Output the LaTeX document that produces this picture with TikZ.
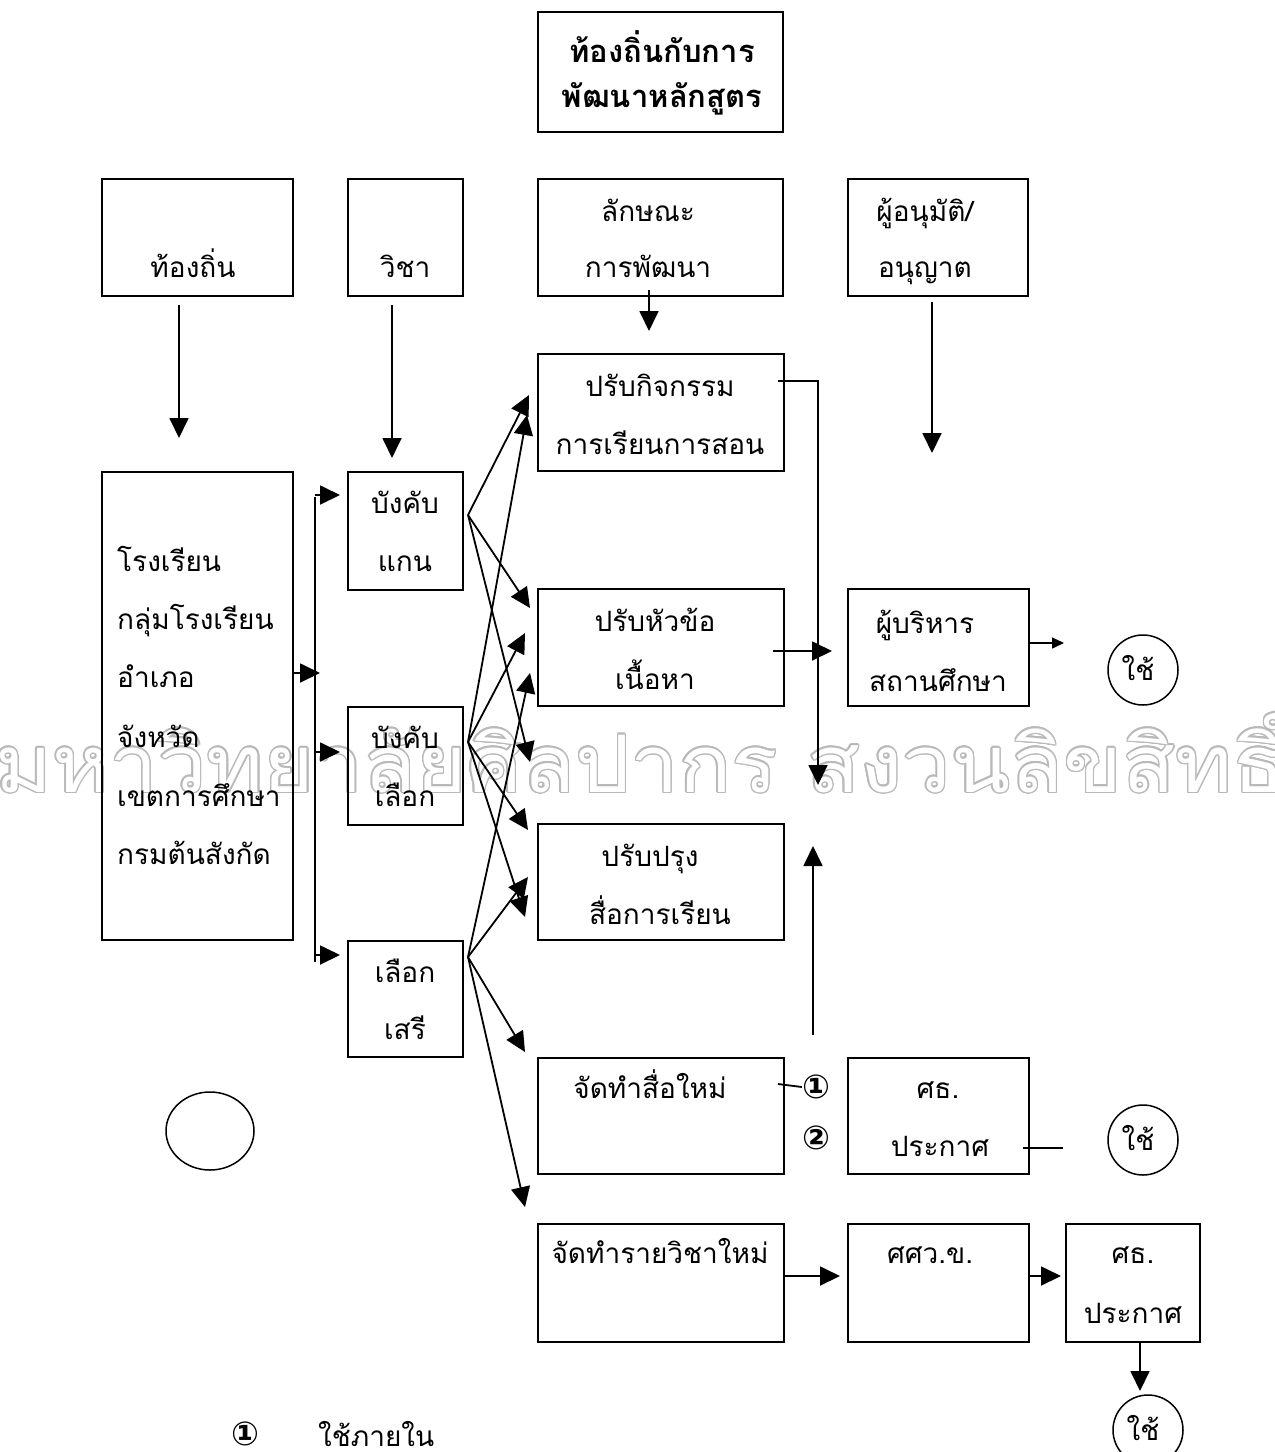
\documentclass[tikz,border=0pt]{standalone}
\usepackage{fontspec}
\usetikzlibrary{arrows.meta,shapes.geometric}
\newfontfamily\thaifnt[Script=Thai]{Loma}
\newfontfamily\symfnt{DejaVu Sans}
\newcommand\tsz{\fontsize{28}{34}\selectfont}
\newcommand\wmtext{\resizebox{1290pt}{84pt}{\thaifnt มหาวิทยาลัยศิลปากร สงวนลิขสิทธิ์}}
\tikzset{
  box/.style={draw, line width=2.2pt, inner sep=0pt},
  arr/.style={line width=1.8pt, -{Triangle[length=20pt,width=19pt]}},
  sarr/.style={line width=1.5pt, -{Triangle[length=12pt,width=11pt]}},
  ln/.style={line width=1.8pt},
  tx/.style={font=\thaifnt\tsz, anchor=base, inner sep=0pt},
  txl/.style={tx, anchor=base west},
  txb/.style={font=\thaifnt\bfseries\fontsize{31}{36}\selectfont, anchor=base, inner sep=0pt},
  num/.style={font=\symfnt\bfseries\fontsize{33}{36}\selectfont, inner sep=0pt},
  usec/.style={draw, circle, line width=1.5pt, minimum size=70pt, inner sep=0pt},
  wm/.style={anchor=base west, inner sep=0pt}
}
\begin{document}
\begin{tikzpicture}[x=1pt,y=-1pt]
\useasboundingbox (0,0) rectangle (1275,1452);
% watermark (outlined)
\foreach \a in {0,22.5,...,337.5}
  \node[wm, text=gray!55, shift={(\a:1.4pt)}] at (-5,792) {\wmtext};
\node[wm, text=white] (wmk) at (-5,792) {\wmtext};
% boxes
\node[box, minimum width=245pt, minimum height=120pt] (title) at (660.5,72) {};
\node[box, minimum width=191pt, minimum height=117pt] (lok) at (197.5,237.5) {};
\node[box, minimum width=115pt, minimum height=117pt] (wicha) at (405.5,237.5) {};
\node[box, minimum width=245pt, minimum height=117pt] (laks) at (660.5,237.5) {};
\node[box, minimum width=180pt, minimum height=117pt] (appr) at (938,237.5) {};
\node[box, minimum width=191pt, minimum height=468pt] (left) at (197.5,706) {};
\node[box, minimum width=115pt, minimum height=118pt] (core) at (405.5,531) {};
\node[box, minimum width=115pt, minimum height=118pt] (reqel) at (405.5,766) {};
\node[box, minimum width=115pt, minimum height=116pt] (free) at (405.5,999) {};
\node[box, minimum width=246pt, minimum height=117pt] (act) at (661,412.5) {};
\node[box, minimum width=246pt, minimum height=117pt] (topic) at (661,647.5) {};
\node[box, minimum width=246pt, minimum height=116pt] (media) at (661,882) {};
\node[box, minimum width=246pt, minimum height=116pt] (nmed) at (661,1116) {};
\node[box, minimum width=246pt, minimum height=118pt] (ncrs) at (661,1283) {};
\node[box, minimum width=181pt, minimum height=117pt] (admin) at (938.5,647.5) {};
\node[box, minimum width=181pt, minimum height=116pt] (moe1) at (938.5,1116) {};
\node[box, minimum width=181pt, minimum height=118pt] (sswk) at (938.5,1283) {};
\node[box, minimum width=134pt, minimum height=118pt] (moe2) at (1133,1283) {};
% circles
\node[usec] (use1) at (1143,670) {};
\node[usec] (use2) at (1143,1140) {};
\node[usec] (use3) at (1148,1430) {};
\node[draw, ellipse, line width=1.5pt, minimum width=88pt, minimum height=78pt, inner sep=0pt] (empty) at (210,1131) {};
% texts
\node[txb] at (662,62) {ท้องถิ่นกับการ};
\node[txb] at (662,107) {พัฒนาหลักสูตร};
\node[tx] at (193,277) {ท้องถิ่น};
\node[tx] at (405,277) {วิชา};
\node[tx] at (648,221) {ลักษณะ};
\node[tx] at (648,277) {การพัฒนา};
\node[tx] at (925,221) {ผู้อนุมัติ/};
\node[tx] at (925,277) {อนุญาต};
\node[txl] at (117,571) {โรงเรียน};
\node[txl] at (117,629) {กลุ่มโรงเรียน};
\node[txl] at (117,687) {อำเภอ};
\node[txl] at (117,747) {จังหวัด};
\node[txl] at (117,806) {เขตการศึกษา};
\node[txl] at (117,864) {กรมต้นสังกัด};
\node[tx] at (405,513) {บังคับ};
\node[tx] at (405,571) {แกน};
\node[tx] at (405,748) {บังคับ};
\node[tx] at (405,806) {เลือก};
\node[tx] at (405,982) {เลือก};
\node[tx] at (405,1039) {เสรี};
\node[tx] at (660,396) {ปรับกิจกรรม};
\node[tx] at (660,454) {การเรียนการสอน};
\node[tx] at (655,631) {ปรับหัวข้อ};
\node[tx] at (655,689) {เนื้อหา};
\node[tx] at (650,866) {ปรับปรุง};
\node[tx] at (660,924) {สื่อการเรียน};
\node[tx] at (650,1098) {จัดทำสื่อใหม่};
\node[tx] at (660,1263) {จัดทำรายวิชาใหม่};
\node[tx] at (925,633) {ผู้บริหาร};
\node[tx] at (938,691) {สถานศึกษา};
\node[tx] at (938,1098) {ศธ.};
\node[tx] at (940,1156) {ประกาศ};
\node[tx] at (930,1263) {ศศว.ข.};
\node[tx] at (1133,1263) {ศธ.};
\node[tx] at (1133,1323) {ประกาศ};
\node[tx] at (1138,680) {ใช้};
\node[tx] at (1138,1150) {ใช้};
\node[tx] at (1143,1440) {ใช้};
\node[num] (n1) at (816,1087) {①};
\node[num] (n2) at (816,1138) {②};
\node[num] (n1b) at (245,1434) {①};
\node[txl] at (318,1446) {ใช้ภายใน};
% coordinates
\coordinate (a1s) at (179,305); \coordinate (a1e) at (179,438);
\coordinate (a2s) at (392,305); \coordinate (a2e) at (392,458);
\coordinate (a3s) at (649,290); \coordinate (a3e) at (649,331);
\coordinate (a4s) at (932,302); \coordinate (a4e) at (932,453);
\coordinate (bt) at (315,497); \coordinate (bb) at (315,962);
\coordinate (b1) at (315,495); \coordinate (b1e) at (340,495);
\coordinate (b2) at (315,752); \coordinate (b2e) at (340,752);
\coordinate (b3) at (315,955); \coordinate (b3e) at (340,955);
\coordinate (lf) at (293,673); \coordinate (lfe) at (320,673);
\coordinate (s1) at (468,515); \coordinate (s2) at (468,742); \coordinate (s3) at (468,957);
\coordinate (t11) at (529,395); \coordinate (t12) at (530,608); \coordinate (t13) at (530,762);
\coordinate (t21) at (527,415); \coordinate (t22) at (525,633); \coordinate (t23) at (528,830); \coordinate (t24) at (525,917);
\coordinate (t31) at (530,673); \coordinate (t32) at (528,877); \coordinate (t33) at (525,1052); \coordinate (t34) at (525,1207);
\coordinate (r1) at (778,381); \coordinate (r1c) at (818,381); \coordinate (r1e) at (818,785);
\coordinate (r2) at (773,651); \coordinate (r2e) at (832,651);
\coordinate (u1) at (813,1035); \coordinate (u1e) at (813,846);
\coordinate (ad) at (1028,643); \coordinate (ade) at (1064,643);
\coordinate (m1) at (1023,1148); \coordinate (m1e) at (1063,1148);
\coordinate (nm) at (778,1084);
\coordinate (c1) at (783,1276); \coordinate (c1e) at (840,1276);
\coordinate (c2) at (1028,1276); \coordinate (c2e) at (1061,1276);
\coordinate (c3) at (1140,1342); \coordinate (c3e) at (1140,1391);
% connectors
\draw[arr] (a1s) -- (a1e);
\draw[arr] (a2s) -- (a2e);
\draw[arr] (a3s) -- (a3e);
\draw[arr] (a4s) -- (a4e);
\draw[ln] (bt) -- (bb);
\draw[arr] (b1) -- (b1e);
\draw[arr] (b2) -- (b2e);
\draw[arr] (b3) -- (b3e);
\draw[arr] (lf) -- (lfe);
\foreach \t in {t11,t12,t13} \draw[arr] (s1) -- (\t);
\foreach \t in {t21,t22,t23,t24} \draw[arr] (s2) -- (\t);
\foreach \t in {t31,t32,t33,t34} \draw[arr] (s3) -- (\t);
\draw[arr] (r1) -- (r1c) -- (r1e);
\draw[arr] (r2) -- (r2e);
\draw[arr] (u1) -- (u1e);
\draw[sarr] (ad) -- (ade);
\draw[ln] (m1) -- (m1e);
\draw[ln] (nm) -- (n1.west);
\draw[arr] (c1) -- (c1e);
\draw[arr] (c2) -- (c2e);
\draw[arr] (c3) -- (c3e);
\end{tikzpicture}
\end{document}
